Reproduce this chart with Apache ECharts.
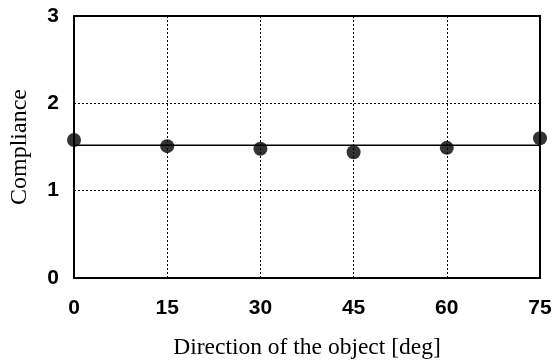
<!DOCTYPE html>
<html><head><meta charset="utf-8">
<script src="https://cdn.jsdelivr.net/npm/echarts@6/dist/echarts.min.js"></script>
<style>html,body{margin:0;padding:0;background:#fff}#c{width:552px;height:362px}</style>
</head><body><div id="c"></div>
<script>
const directions = [0, 15, 30, 45, 60, 75];
const compliance = [1.58, 1.51, 1.48, 1.44, 1.49, 1.60];
const meanLevel = 1.52;
const xTicks = [0, 15, 30, 45, 60, 75];
const yTicks = [0, 1, 2, 3];

const chart = echarts.init(document.getElementById('c'), null, {renderer: 'canvas'});
chart.setOption({
  animation: false,
  backgroundColor: '#fff',
  grid: {left: 74, right: 12, top: 16, bottom: 84, containLabel: false, outerBoundsMode: 'none',
         show: true, borderColor: '#000', borderWidth: 2},
  xAxis: {
    type: 'value', min: xTicks[0], max: xTicks[xTicks.length-1], interval: 15,
    name: 'Direction of the object [deg]', nameLocation: 'middle', nameGap: 58,
    nameTextStyle: {fontFamily: 'Liberation Serif', fontSize: 23.5, color: '#000'},
    axisLine: {show: true, lineStyle: {color: '#000', width: 2}},
    axisTick: {show: false},
    axisLabel: {fontFamily: 'Liberation Sans', fontWeight: 'bold', fontSize: 21, color: '#000', margin: 20},
    splitLine: {show: true, lineStyle: {color: '#000', type: [2, 2], width: 1}}
  },
  yAxis: {
    type: 'value', min: yTicks[0], max: yTicks[yTicks.length-1], interval: 1,
    name: 'Compliance', nameLocation: 'middle', nameGap: 42,
    nameTextStyle: {fontFamily: 'Liberation Serif', fontSize: 24, color: '#000'},
    axisLine: {show: true, lineStyle: {color: '#000', width: 2}},
    axisTick: {show: false},
    axisLabel: {fontFamily: 'Liberation Sans', fontWeight: 'bold', fontSize: 21, color: '#000', margin: 15},
    splitLine: {show: true, lineStyle: {color: '#000', type: [2, 2], width: 1}}
  },
  series: [
    {
      type: 'line', data: [[xTicks[0], meanLevel], [xTicks[xTicks.length-1], meanLevel]],
      showSymbol: false, symbol: 'none', lineStyle: {color: '#000', width: 1.6}, z: 3
    },
    {
      type: 'scatter', data: directions.map((d, i) => [d, compliance[i]]),
      symbol: 'circle', symbolSize: 14, itemStyle: {color: '#000'}, z: 4
    }
  ]
});
</script></body></html>
